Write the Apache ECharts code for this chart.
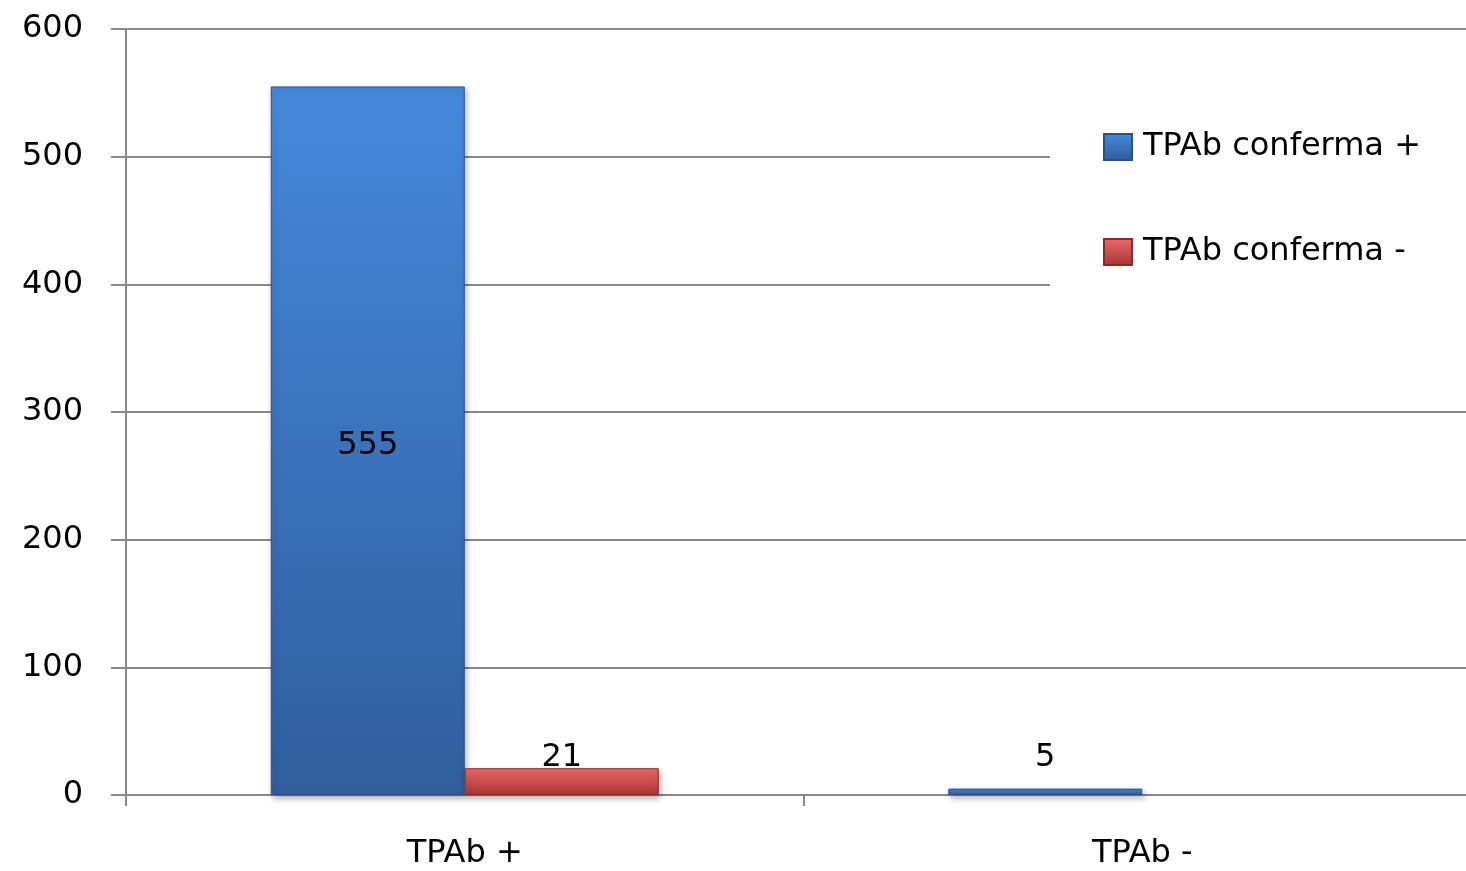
<!DOCTYPE html>
<html>
<head>
<meta charset="utf-8">
<script src="https://cdn.jsdelivr.net/npm/echarts@6/dist/echarts.min.js"></script>
<style>html,body{margin:0;padding:0;background:#fff;overflow:hidden}#c{width:1481px;height:871px}</style>
</head>
<body>
<div id="c"></div>
<script>
const categories = ['TPAb +', 'TPAb -'];
const seriesNames = ['TPAb conferma +', 'TPAb conferma -'];
const confermaPos = [555, 5];
const confermaNeg = [21, 0];
const yTicks = [0, 100, 200, 300, 400, 500, 600];

const FONT = 'DejaVu Sans';
const FS = 32;
const chart = echarts.init(document.getElementById('c'), null, {renderer: 'canvas'});

function grad(top, bottom) {
  return new echarts.graphic.LinearGradient(0, 0, 0, 1, [
    {offset: 0, color: top}, {offset: 1, color: bottom}
  ]);
}

chart.setOption({
  animation: false,
  backgroundColor: '#fff',
  textStyle: {fontFamily: FONT},
  grid: {left: 126, top: 29, bottom: 76, right: 0, containLabel: false},
  legend: {
    orient: 'vertical',
    left: 1050, top: 40,
    backgroundColor: '#fff',
    padding: [91, 80, 130, 53],
    itemWidth: 28, itemHeight: 26, itemGap: 73,
    icon: 'rect',
    textStyle: {fontFamily: FONT, fontSize: FS, color: '#000', padding: [0, 0, 0, 6]},
    data: seriesNames
  },
  xAxis: {
    type: 'category',
    data: categories,
    axisLine: {lineStyle: {color: '#888', width: 2}},
    axisTick: {show: true, length: 11, lineStyle: {color: '#888', width: 2}},
    axisLabel: {color: '#000', fontFamily: FONT, fontSize: FS, margin: 43}
  },
  yAxis: {
    type: 'value',
    min: yTicks[0], max: yTicks[yTicks.length - 1], interval: 100,
    axisLine: {show: true, lineStyle: {color: '#888', width: 2}},
    axisTick: {show: true, length: 15, lineStyle: {color: '#888', width: 2}},
    splitLine: {lineStyle: {color: '#888', width: 2}},
    axisLabel: {color: '#000', fontFamily: FONT, fontSize: FS, margin: 43}
  },
  series: [
    {
      name: seriesNames[0], type: 'bar', barWidth: 194, barGap: '0%',
      data: confermaPos.map((v, i) => ({
        value: v,
        label: i === 0 ? {position: 'inside', offset: [0, 5]} : {position: 'top', distance: 15}
      })),
      itemStyle: {
        color: grad('#4589dc', '#305e9e'),
        borderColor: '#2a5088', borderWidth: 1,
        shadowColor: 'rgba(0,0,0,0.3)', shadowBlur: 6, shadowOffsetX: 2, shadowOffsetY: 3
      },
      label: {show: true, color: '#000', fontFamily: FONT, fontSize: FS,
        formatter: p => p.value === 0 ? '' : String(p.value)}
    },
    {
      name: seriesNames[1], type: 'bar', barWidth: 194,
      data: confermaNeg.map(v => v === 0 ? {value: v, itemStyle: {opacity: 0}} : v),
      itemStyle: {
        color: grad('#ee6a6a', '#a83434'),
        borderColor: '#8a2a2a', borderWidth: 1,
        shadowColor: 'rgba(0,0,0,0.3)', shadowBlur: 6, shadowOffsetX: 2, shadowOffsetY: 3
      },
      label: {show: true, position: 'top', color: '#000', fontFamily: FONT, fontSize: FS, distance: -5,
        formatter: p => p.value === 0 ? '' : String(p.value)}
    }
  ]
});
</script>
</body>
</html>
